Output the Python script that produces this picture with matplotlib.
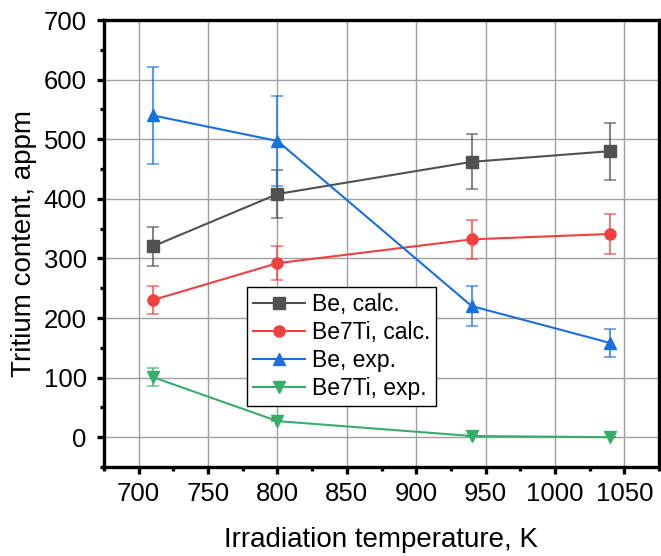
import matplotlib
matplotlib.use('Agg')
import matplotlib.pyplot as plt
from matplotlib.ticker import MultipleLocator

plt.rcParams['font.family'] = ['Liberation Sans', 'DejaVu Sans']

# irradiation temperatures, K
temps = [710, 800, 940, 1040]

be_calc = [320, 408, 462, 480]
be_calc_err = [32, 41, 46, 48]
be7ti_calc = [230, 292, 332, 341]
be7ti_calc_err = [23, 29, 33, 34]
be_exp = [540, 497, 220, 158]
be_exp_err = [81, 75, 33, 24]
be7ti_exp = [101, 27, 2, 0]
be7ti_exp_err = [15, 0, 0, 0]

labels = ['Be, calc.', 'Be7Ti, calc.', 'Be, exp.', 'Be7Ti, exp.']
colors = ['#515151', '#F14040', '#1A6FDF', '#37AD6B']
markers = ['s', 'o', '^', 'v']

series = [(be_calc, be_calc_err), (be7ti_calc, be7ti_calc_err),
          (be_exp, be_exp_err), (be7ti_exp, be7ti_exp_err)]

fig = plt.figure(figsize=(6.61, 5.56), dpi=100)
ax = fig.add_axes([104 / 661, 89 / 556, 555 / 661, 447 / 556])

for (vals, errs), lab, c, m in zip(series, labels, colors, markers):
    ax.errorbar(temps, vals, yerr=errs, fmt='none', ecolor=c, alpha=0.7,
                elinewidth=1.5, capsize=4, capthick=1.2, zorder=2)
    ax.plot(temps, vals, color=c, marker=m, markersize=8, linewidth=1.5,
            label=lab, zorder=3)

ax.set_xlim(675, 1075)
ax.set_ylim(-50, 700)
ax.xaxis.set_major_locator(MultipleLocator(50))
ax.xaxis.set_minor_locator(MultipleLocator(25))
ax.yaxis.set_major_locator(MultipleLocator(100))
ax.yaxis.set_minor_locator(MultipleLocator(50))

ax.grid(True, which='major', color='#a0a0a0', linewidth=1.0, zorder=0)
ax.set_axisbelow(True)

for s in ax.spines.values():
    s.set_linewidth(2.4)
ax.tick_params(which='major', direction='out', length=5, width=2.4,
               labelsize=18.5)
ax.tick_params(axis='x', which='major', pad=6)
ax.tick_params(axis='y', which='major', pad=7.5)
ax.tick_params(which='minor', direction='out', length=3, width=2.4)

ax.set_xlabel('Irradiation temperature, K', fontsize=20, labelpad=15)
ax.set_ylabel('Tritium content, appm', fontsize=20, labelpad=5)

leg = ax.legend(loc='upper left', bbox_to_anchor=((247 - 104) / 555, (467 - 287) / 447),
                fontsize=16.5, frameon=True, fancybox=False, borderaxespad=0,
                handlelength=2.3, handletextpad=0.3, borderpad=0.25,
                labelspacing=0.22, framealpha=1)
leg.get_frame().set_edgecolor('black')
leg.get_frame().set_linewidth(1.0)

plt.savefig('out.png', dpi=100)
